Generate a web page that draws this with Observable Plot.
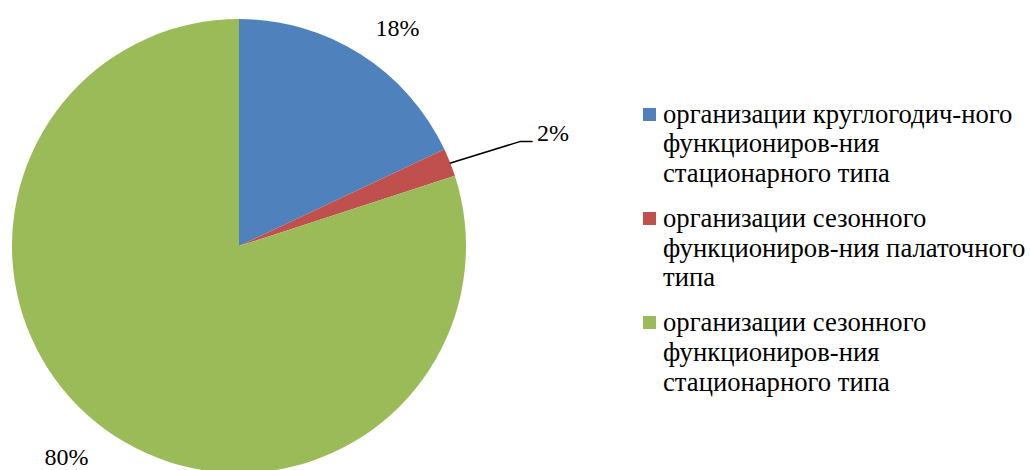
<!DOCTYPE html>
<html>
<head>
<meta charset="utf-8">
<script src="https://cdn.jsdelivr.net/npm/d3@7"></script>
<script src="https://cdn.jsdelivr.net/npm/@observablehq/plot@0.6"></script>
<style>
  html, body { margin: 0; padding: 0; background: #fff; font-family: 'Liberation Serif', serif; }
  #wrap { position: relative; width: 1030px; height: 470px; overflow: hidden; }
  #legend { position: absolute; left: 643px; top: 99.5px; font-size: 26.67px; line-height: 29.8px; color: #000; white-space: nowrap; }
  .item { position: relative; padding-left: 20px; margin-bottom: 15px; }
  .sw { position: absolute; left: 0; top: 8px; width: 13px; height: 13px; }
</style>
</head>
<body>
<div id="wrap"><div id="chart"></div><div id="legend"></div></div>
<script>
// ---- data ----
const categories = [
  "организации круглогодич-ного функциониров-ния стационарного типа",
  "организации сезонного функциониров-ния палаточного типа",
  "организации сезонного функциониров-ния стационарного типа"
];
const legendLines = [
  ["организации круглогодич-ного", "функциониров-ния", "стационарного типа"],
  ["организации сезонного", "функциониров-ния палаточного", "типа"],
  ["организации сезонного", "функциониров-ния", "стационарного типа"]
];
const values = [18, 2, 80];
const valueLabels = ["18%", "2%", "80%"];
const colors = ["#4F81BD", "#C0504D", "#9BBB59"];

// ---- layout ----
const FONT = "'Liberation Serif', serif";
const cx = 239, cy = 246, R = 227;
// label anchor points in pie units (y up), and text-anchor
const labelPos = [
  {x: 0.696, y: 0.963, anchor: "middle"},
  {x: 1.311, y: 0.498, anchor: "start"},
  {x: -0.762, y: -0.93, anchor: "middle"}
];

const pie = d3.pie().sort(null).value(d => d.value).startAngle(0).endAngle(2 * Math.PI);
const rows = categories.map((c, i) => ({category: c, value: values[i], label: valueLabels[i], color: colors[i]}));
const arcs = pie(rows);
const labels = arcs.map((a, i) => ({label: a.data.label, x: labelPos[i].x, y: labelPos[i].y, anchor: labelPos[i].anchor}));

// leader line for the small slice (index 1)
const small = arcs[1];
const mid = (small.startAngle + small.endAngle) / 2;
const leader = [
  {x: Math.sin(mid), y: Math.cos(mid)},
  {x: 1.238, y: 0.463},
  {x: 1.289, y: 0.463}
];

function pieMark(index, scales) {
  const sx = scales.x, sy = scales.y;
  const ox = sx(0), oy = sy(0), rr = sx(1) - sx(0);
  const arcGen = d3.arc().innerRadius(0).outerRadius(rr);
  const g = d3.create("svg:g").attr("transform", `translate(${ox},${oy})`);
  g.selectAll("path").data(arcs).join("path")
    .attr("d", arcGen)
    .attr("fill", d => d.data.color);
  return g.node();
}

const chart = Plot.plot({
  width: 1030,
  height: 470,
  style: {background: "#fff", fontFamily: FONT},
  x: {domain: [-1, 1], range: [cx - R, cx + R], axis: null},
  y: {domain: [-1, 1], range: [cy + R, cy - R], axis: null},
  marks: [
    pieMark,
    Plot.line(leader, {x: "x", y: "y", stroke: "#000", strokeWidth: 1.5}),
    Plot.text(labels.filter(d => d.anchor === "middle"), {x: "x", y: "y", text: "label", fontSize: 24, fontFamily: FONT, fill: "#000", textAnchor: "middle", lineAnchor: "middle"}),
    Plot.text(labels.filter(d => d.anchor === "start"), {x: "x", y: "y", text: "label", fontSize: 24, fontFamily: FONT, fill: "#000", textAnchor: "start", lineAnchor: "middle"})
  ]
});
document.getElementById("chart").appendChild(chart);

const legend = d3.select("#legend");
legendLines.forEach((lines, i) => {
  const it = legend.append("div").attr("class", "item");
  it.append("div").attr("class", "sw").style("background", colors[i]);
  lines.forEach(t => it.append("div").style("font-family", FONT).text(t));
});
</script>
</body>
</html>
